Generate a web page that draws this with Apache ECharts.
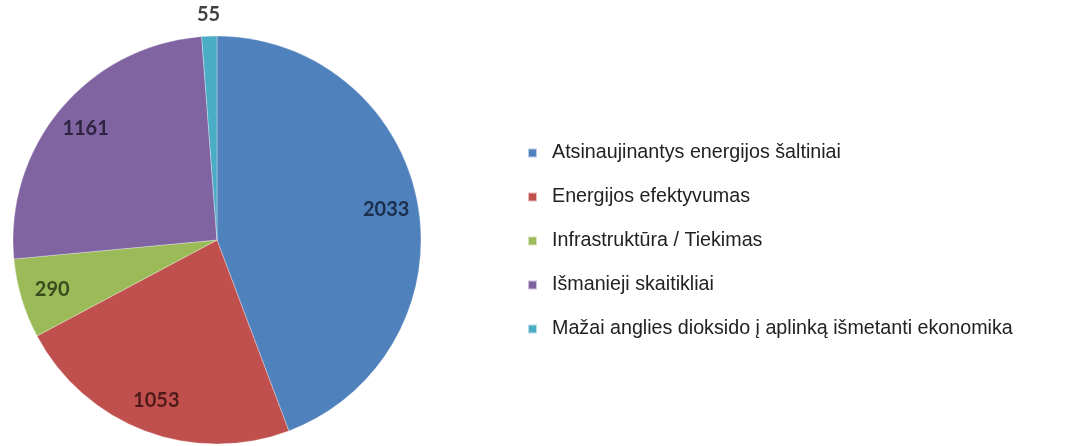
<!DOCTYPE html>
<html>
<head>
<meta charset="utf-8">
<script src="https://cdn.jsdelivr.net/npm/echarts@6/dist/echarts.min.js"></script>
<style>
  html, body { margin: 0; padding: 0; background: #ffffff; }
  #chart { width: 1070px; height: 446px; }
</style>
</head>
<body>
<div id="chart"></div>
<script>
// Project counts by energy area
const categories = [
  'Atsinaujinantys energijos šaltiniai',
  'Energijos efektyvumas',
  'Infrastruktūra / Tiekimas',
  'Išmanieji skaitikliai',
  'Mažai anglies dioksido į aplinką išmetanti ekonomika'
];
const values = [2033, 1053, 290, 1161, 55];
const sliceColors = ['#4f81bd', '#c0504d', '#9bbb59', '#8064a2', '#4bacc6'];
const labelColors = ['#1b2f4d', '#4f1a19', '#3a4a1d', '#2e2340', '#404040'];

const center = [217, 240];
const radius = 204;

const total = values.reduce((a, b) => a + b, 0);
// Slices too thin for an inside label get their value written just outside the rim
const isThin = values.map(v => v / total < 0.02);

const pieData = categories.map((name, i) => ({
  name,
  value: values[i],
  itemStyle: { color: sliceColors[i] }
}));

// Transparent rings that only carry the value labels
function labelRing(showFn) {
  return categories.map((name, i) => ({
    name,
    value: values[i],
    itemStyle: { color: 'rgba(0,0,0,0)' },
    label: { show: showFn(i), color: labelColors[i] }
  }));
}

const labelStyle = {
  position: 'inside',
  formatter: '{c}',
  fontFamily: 'Lato, Calibri, sans-serif',
  fontSize: 20,
  fontWeight: 'bold'
};

const chart = echarts.init(document.getElementById('chart'), null, { renderer: 'canvas' });
chart.setOption({
  backgroundColor: '#ffffff',
  animation: false,
  legend: {
    orient: 'vertical',
    left: 527,
    top: 143,
    padding: 0,
    icon: 'rect',
    itemWidth: 9,
    itemHeight: 9,
    itemGap: 24,
    data: categories,
    textStyle: {
      fontFamily: 'Liberation Sans, Arial, sans-serif',
      fontSize: 19.7,
      color: '#222222',
      lineHeight: 20,
      padding: [0, 0, 0, 10]
    }
  },
  series: [
    {
      type: 'pie',
      center,
      radius,
      startAngle: 90,
      clockwise: true,
      silent: true,
      label: { show: false },
      labelLine: { show: false },
      itemStyle: { borderColor: 'rgba(255,255,255,0.6)', borderWidth: 0.5 },
      data: pieData
    },
    {
      type: 'pie',
      center,
      radius: [134, radius],
      startAngle: 90,
      clockwise: true,
      silent: true,
      legendHoverLink: false,
      avoidLabelOverlap: false,
      label: labelStyle,
      labelLine: { show: false },
      data: labelRing(i => !isThin[i])
    },
    {
      type: 'pie',
      center,
      radius: [radius + 2, radius + 36],
      startAngle: 90,
      clockwise: true,
      silent: true,
      legendHoverLink: false,
      avoidLabelOverlap: false,
      label: labelStyle,
      labelLine: { show: false },
      data: labelRing(i => isThin[i])
    }
  ]
});
</script>
</body>
</html>
